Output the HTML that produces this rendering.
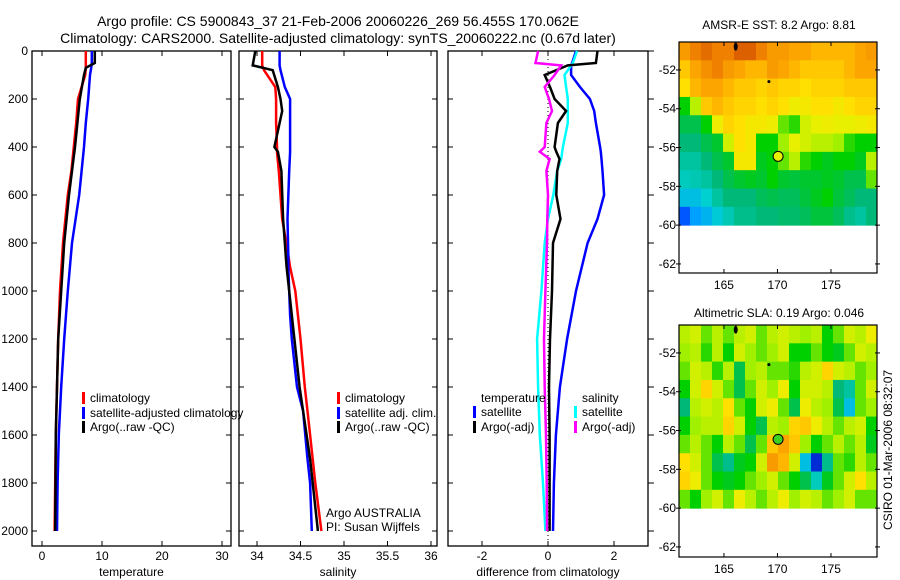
<!DOCTYPE html>
<html><head><meta charset="utf-8">
<style>
html,body{margin:0;padding:0;background:#fff;}
svg{display:block;font-family:"Liberation Sans",sans-serif;}
</style></head>
<body>
<svg id="chart" width="900" height="580" viewBox="0 0 900 580">
<text x="338" y="26" font-size="14" text-anchor="middle">Argo profile: CS 5900843_37 21-Feb-2006 20060226_269 56.455S 170.062E</text>
<text x="338" y="43" font-size="14" text-anchor="middle">Climatology: CARS2000. Satellite-adjusted climatology: synTS_20060222.nc (0.67d later)</text>
<text x="779" y="29" font-size="12" text-anchor="middle">AMSR-E SST: 8.2 Argo: 8.81</text>
<text x="779" y="317" font-size="12" text-anchor="middle">Altimetric SLA: 0.19 Argo: 0.046</text>
<text transform="translate(892,450) rotate(-90)" font-size="12" text-anchor="middle">CSIRO 01-Mar-2006 08:32:07</text>
</svg>
<script>
// ---- data ----
const tDepth = [0,50,70,100,200,300,400,500,600,800,1000,1200,1400,1600,1800,2000];
const tArgo  = [8.8,8.8,7.3,7.0,6.3,5.9,5.5,5.0,4.5,3.7,3.2,2.7,2.5,2.3,2.25,2.2];
const tClim  = [7.3,7.3,7.3,7.2,6.0,5.7,5.3,4.9,4.3,3.5,3.0,2.7,2.5,2.3,2.2,2.1];
const tSat   = [8.3,8.3,8.2,8.0,7.7,7.3,7.0,6.6,6.2,5.0,4.3,3.7,3.2,2.8,2.6,2.5];
const sDepth = [0,60,80,150,200,250,300,400,420,500,700,850,900,1000,1100,1200,1400,1500,1700,1800,2000];
const sArgo  = [33.98,33.95,34.18,34.24,34.27,34.29,34.26,34.2,34.24,34.28,34.3,34.33,34.34,34.37,34.4,34.43,34.49,34.53,34.61,34.64,34.7];
const sClim  = [34.06,34.06,34.08,34.21,34.22,34.22,34.22,34.23,34.23,34.25,34.29,34.36,34.38,34.44,34.47,34.5,34.55,34.58,34.64,34.67,34.74];
const sSat   = [34.26,34.26,34.27,34.32,34.38,34.38,34.38,34.38,34.38,34.37,34.35,34.36,34.36,34.37,34.38,34.4,34.46,34.53,34.58,34.61,34.63];
const dDepth = [0,50,60,100,150,200,250,300,400,420,450,500,600,700,800,1000,1200,1400,1600,1800,2000];
const dTsat  = [0.85,0.73,0.7,0.7,0.97,1.27,1.4,1.45,1.58,1.6,1.62,1.65,1.7,1.5,1.2,0.85,0.58,0.36,0.24,0.18,0.15];
const dTargo = [1.5,1.45,0.6,-0.1,0.06,0.2,0.55,0.3,0.2,0.25,0.35,0.28,0.25,0.38,0.15,0.12,0.06,0.03,0.05,0.05,0.05];
const dSsat  = [0.88,0.75,0.7,0.5,0.55,0.6,0.6,0.6,0.45,0.43,0.4,0.28,0.16,0.0,-0.1,-0.2,-0.33,-0.3,-0.25,-0.15,-0.08];
const dSargo = [-0.3,-0.38,0.4,0.2,-0.1,0.03,0.12,-0.05,-0.1,-0.25,0.05,-0.05,0.0,-0.02,-0.03,-0.08,-0.12,-0.1,-0.06,-0.04,-0.03];
const depthTicks = [0,200,400,600,800,1000,1200,1400,1600,1800,2000];
const tTicks = [0,10,20,30];
const sTicks = [34,34.5,35,35.5,36];
const dTicks = [-2,0,2];
const mapLatTicks = [-52,-54,-56,-58,-60,-62];
const mapLonTicks = [165,170,175];
const sstGrid = [
[0.8,0.85,0.88,0.85,0.85,0.9,0.9,0.85,0.8,0.8,0.78,0.78,0.75,0.75,0.75,0.75,0.78,0.8],
[0.72,0.78,0.82,0.85,0.8,0.78,0.75,0.75,0.8,0.78,0.75,0.72,0.72,0.72,0.72,0.75,0.78,0.78],
[0.68,0.75,0.78,0.78,0.75,0.72,0.72,0.7,0.72,0.7,0.7,0.68,0.7,0.7,0.7,0.72,0.72,0.72],
[0.5,0.6,0.72,0.75,0.72,0.7,0.7,0.68,0.7,0.68,0.65,0.66,0.68,0.68,0.66,0.68,0.7,0.7],
[0.45,0.45,0.5,0.65,0.7,0.68,0.66,0.66,0.65,0.55,0.52,0.62,0.64,0.65,0.64,0.64,0.65,0.66],
[0.42,0.42,0.45,0.47,0.62,0.68,0.66,0.5,0.5,0.58,0.64,0.62,0.6,0.6,0.58,0.52,0.5,0.5],
[0.38,0.38,0.42,0.45,0.47,0.66,0.66,0.48,0.5,0.55,0.6,0.52,0.5,0.48,0.5,0.5,0.48,0.6],
[0.35,0.36,0.38,0.42,0.45,0.47,0.48,0.47,0.5,0.47,0.46,0.47,0.47,0.48,0.47,0.45,0.45,0.55],
[0.3,0.3,0.33,0.38,0.42,0.42,0.42,0.44,0.45,0.44,0.44,0.46,0.48,0.5,0.46,0.44,0.42,0.42],
[0.15,0.25,0.28,0.32,0.36,0.4,0.4,0.42,0.42,0.43,0.43,0.44,0.46,0.46,0.44,0.4,0.38,0.42]];
const slaGrid = [
[0.6,0.62,0.55,0.6,0.55,0.6,0.62,0.55,0.6,0.62,0.6,0.58,0.6,0.5,0.55,0.62,0.6,0.65],
[0.58,0.6,0.52,0.6,0.5,0.62,0.58,0.55,0.58,0.62,0.5,0.5,0.55,0.5,0.48,0.55,0.62,0.6],
[0.55,0.62,0.6,0.52,0.6,0.45,0.58,0.6,0.55,0.55,0.52,0.6,0.62,0.7,0.62,0.6,0.55,0.58],
[0.5,0.62,0.7,0.62,0.55,0.45,0.55,0.62,0.58,0.65,0.5,0.62,0.62,0.6,0.42,0.38,0.55,0.62],
[0.42,0.6,0.62,0.6,0.68,0.55,0.5,0.62,0.65,0.55,0.45,0.65,0.6,0.58,0.45,0.3,0.55,0.58],
[0.5,0.58,0.6,0.6,0.7,0.62,0.5,0.45,0.6,0.58,0.7,0.72,0.65,0.6,0.55,0.6,0.62,0.5],
[0.55,0.6,0.55,0.5,0.6,0.55,0.45,0.55,0.72,0.78,0.72,0.58,0.5,0.55,0.6,0.55,0.6,0.48],
[0.68,0.62,0.55,0.45,0.4,0.48,0.5,0.62,0.8,0.75,0.62,0.3,0.08,0.4,0.55,0.52,0.6,0.55],
[0.7,0.65,0.55,0.5,0.48,0.5,0.55,0.58,0.62,0.55,0.5,0.45,0.35,0.48,0.55,0.62,0.68,0.6],
[0.55,0.5,0.58,0.62,0.55,0.65,0.6,0.55,0.6,0.65,0.58,0.62,0.6,0.55,0.58,0.62,0.55,0.55]];
const floatPos = [170.06,-56.455];
const trackPts = [[166.1,-50.8],[169.2,-52.6]];

// ---- drawing ----
const svg = document.getElementById('chart');
const NS = 'http://www.w3.org/2000/svg';
function mk(tag, attrs, parent){const e=document.createElementNS(NS,tag);for(const k in attrs)e.setAttribute(k,attrs[k]);(parent||svg).appendChild(e);return e;}
const top0=51, yScale=(531-51)/2000;
function yD(d){return top0+d*yScale;}

function panel(name, x0, x1, xv0, pxPer, xticks, label, showY){
  const g = mk('g',{});
  
  
  const xf = v => xv0 + (v - (xticks===dTicks?0:xticks[0]))*pxPer;
  const fr = mk('rect',{x:x0,y:top0,width:x1-x0,height:546-top0,fill:'none',stroke:'#000','stroke-width':1.3},g);
  
  
  xticks.forEach(t=>{
    const x=xf(t);
    mk('line',{x1:x,y1:546,x2:x,y2:541,stroke:'#000'},g);
    mk('line',{x1:x,y1:top0,x2:x,y2:top0+5,stroke:'#000'},g);
    const tl = mk('text',{x:x,y:560,'font-size':12,'text-anchor':'middle'},g);
    tl.textContent = t;
    
    
  });
  depthTicks.forEach(d=>{
    const y=yD(d);
    if(name==='difference-panel'){mk('line',{x1:x1,y1:y,x2:x1+6,y2:y,stroke:'#000'},g);}
    else{mk('line',{x1:x1,y1:y,x2:x1-5,y2:y,stroke:'#000'},g);}
    mk('line',{x1:x0,y1:y,x2:x0+5,y2:y,stroke:'#000'},g);
    if(showY){
      const yl = mk('text',{x:28,y:y+4,'font-size':12,'text-anchor':'end'});
      yl.textContent=d;
      
      
    }
  });
  const xl = mk('text',{x:(x0+x1)/2,y:576,'font-size':12,'text-anchor':'middle'});
  xl.textContent=label;
  
  
  return xf;
}
function series(name, depths, vals, xf, color, w){
  const pts = depths.map((d,i)=>xf(vals[i]).toFixed(1)+','+yD(d).toFixed(1)).join(' ');
  const p = mk('polyline',{points:pts,fill:'none',stroke:color,'stroke-width':w||2.5,'stroke-linejoin':'miter'});
  
  
}
function legend(x, y, color, text, name){
  const m = mk('rect',{x:x,y:y-10,width:3,height:12,fill:color});
  
  
  if(text){const t = mk('text',{x:x+8,y:y,'font-size':12});
  t.textContent=text;
  
  }
}

// temperature
const xT = panel('temperature-panel',32,231,42,6,tTicks,'temperature',true);
series('temp-climatology-line',tDepth,tClim,xT,'#f00');
series('temp-satellite-line',tDepth,tSat,xT,'#00f');
series('temp-argo-line',tDepth,tArgo,xT,'#000');
legend(82,402,'#f00','climatology','legend-climatology');
legend(82,417,'#00f','satellite-adjusted climatology','legend-satellite-adjusted');
legend(82,431,'#000','Argo(..raw -QC)','legend-argo-raw');

// salinity
const xS = panel('salinity-panel',239,437,257,87,sTicks,'salinity',false);
series('sal-climatology-line',sDepth,sClim,xS,'#f00');
series('sal-satellite-line',sDepth,sSat,xS,'#00f');
series('sal-argo-line',sDepth,sArgo,xS,'#000');
legend(337,402,'#f00','climatology','legend-sal-climatology');
legend(337,417,'#00f','satellite adj. clim.','legend-sal-satellite');
legend(337,431,'#000','Argo(..raw -QC)','legend-sal-argo');
const ag=mk('text',{x:326,y:517,'font-size':12}); ag.textContent='Argo AUSTRALIA';
 
const pi=mk('text',{x:326,y:531,'font-size':12}); pi.textContent='PI: Susan Wijffels';
 

// difference
const xDf = panel('difference-panel',448,648,548,33,dTicks,'difference from climatology',false);
const zl = mk('line',{x1:xDf(0),y1:top0,x2:xDf(0),y2:546,stroke:'#000','stroke-dasharray':'1,3'});
 
series('diff-temp-satellite-line',dDepth,dTsat,xDf,'#00f');
series('diff-sal-satellite-line',dDepth,dSsat,xDf,'#0ff');
series('diff-temp-argo-line',dDepth,dTargo,xDf,'#000');
series('diff-sal-argo-line',dDepth,dSargo,xDf,'#f0f');
const lt=mk('text',{x:481,y:402,'font-size':12}); lt.textContent='temperature';
 
const ls=mk('text',{x:582,y:402,'font-size':12}); ls.textContent='salinity';
 
legend(473,416,'#00f','satellite','legend-diff-temp-satellite');
legend(473,431,'#000','Argo(-adj)','legend-diff-temp-argo');
legend(574,416,'#0ff','satellite','legend-diff-sal-satellite');
legend(574,431,'#f0f','Argo(-adj)','legend-diff-sal-argo');

// maps
const stops=[[0,[0,0,128]],[0.12,[0,64,255]],[0.25,[0,160,255]],[0.33,[0,208,208]],[0.42,[0,184,120]],[0.5,[0,208,0]],[0.58,[160,240,0]],[0.64,[232,240,0]],[0.68,[255,224,0]],[0.76,[255,176,0]],[0.85,[240,128,0]],[0.95,[200,64,0]],[1,[180,40,0]]];
function cmap(v){for(let i=1;i<stops.length;i++){if(v<=stops[i][0]){const a=stops[i-1],b=stops[i];const t=(v-a[0])/(b[0]-a[0]);const c=a[1].map((x,j)=>Math.round(x+(b[1][j]-x)*t));return 'rgb('+c.join(',')+')';}}return 'rgb(180,40,0)';}
function map(name, grid, top, bottom, markFill){
  const L=679,R=877, lonL=160.8, lonR=179.3, latTop=-50.56, k=19.4;
  const xl=lon=>L+(lon-lonL)*(R-L)/(lonR-lonL);
  const yl=lat=>top+(latTop-lat)*k;
  const g=mk('g',{});
  
  
  const rows=grid.length, cols=grid[0].length, y60=yl(-60);
  const ch=(y60-top)/rows, cw=(R-L)/cols;
  grid.forEach((row,r)=>row.forEach((v,c)=>{
    const cell=mk('rect',{x:(L+c*cw).toFixed(2),y:(top+r*ch).toFixed(2),width:(cw+0.5).toFixed(2),height:(ch+0.5).toFixed(2),fill:cmap(v)},g);
    
    
  }));
  const fr=mk('rect',{x:L,y:top,width:R-L,height:bottom-top,fill:'none',stroke:'#000','stroke-width':1.2},g);
   
  mapLatTicks.forEach(lat=>{const y=yl(lat);
    mk('line',{x1:L-3,y1:y,x2:L+2,y2:y,stroke:'#000'},g);
    mk('line',{x1:R-2,y1:y,x2:R+3,y2:y,stroke:'#000'},g);
    const t=mk('text',{x:L-3,y:y+4,'font-size':12,'text-anchor':'end'},g); t.textContent=lat;
     });
  mapLonTicks.forEach(lon=>{const x=xl(lon);
    mk('line',{x1:x,y1:bottom,x2:x,y2:bottom-4,stroke:'#000'},g);
    mk('line',{x1:x,y1:top,x2:x,y2:top+4,stroke:'#000'},g);
    const t=mk('text',{x:x,y:bottom+16,'font-size':12,'text-anchor':'middle'},g); t.textContent=lon;
     });
  trackPts.forEach((p,i)=>{const m=mk('ellipse',{cx:xl(p[0]),cy:yl(p[1]),rx:i?1.5:2,ry:i?1.5:4,fill:'#000'},g);
     });
  const c=mk('circle',{cx:xl(floatPos[0]),cy:yl(floatPos[1]),r:5,fill:markFill,stroke:'#000','stroke-width':1},g);
   
}
map('sst-map',sstGrid,42,273,'#e8f000');
map('sla-map',slaGrid,325,557,'#40d020');
</script>
</body></html>
